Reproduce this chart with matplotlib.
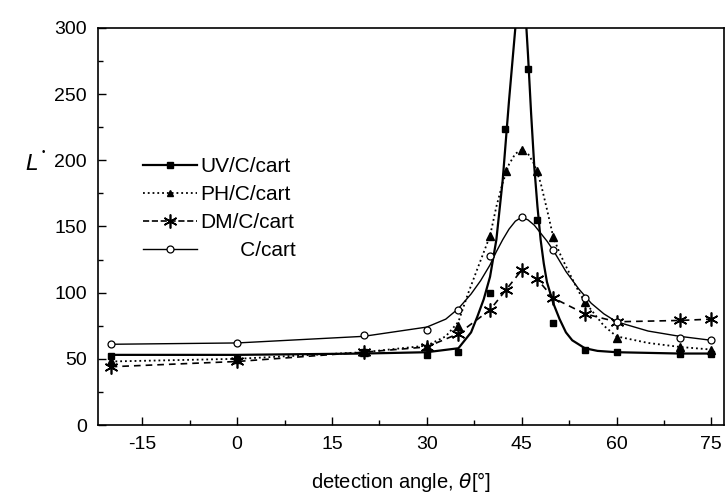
import matplotlib
matplotlib.use("Agg")
import matplotlib.pyplot as plt
from matplotlib.lines import Line2D
from matplotlib.ticker import MultipleLocator

plt.rcParams['font.family'] = ['Liberation Sans', 'DejaVu Sans']
plt.rcParams['axes.unicode_minus'] = False

# measured points
uv_x = [-20, 0, 20, 30, 35, 40, 42.3, 46, 47.5, 50, 55, 60, 70, 75]
uv_y = [52, 50, 55, 53, 55, 100, 224, 269, 155, 77, 57, 55, 54, 54]

ph_x = [-20, 0, 20, 30, 35, 40, 42.5, 45, 47.5, 50, 55, 60, 70, 75]
ph_y = [48, 50, 55, 60, 75, 143, 192, 208, 192, 142, 93, 66, 59, 57]

dm_x = [-20, 0, 20, 30, 35, 40, 42.5, 45, 47.5, 50, 55, 60, 70, 75]
dm_y = [44, 48, 55, 59, 69, 87, 102, 117, 110, 96, 84, 78, 79, 80]

c_x = [-20, 0, 20, 30, 35, 40, 45, 50, 55, 60, 70, 75]
c_y = [61, 62, 68, 72, 87, 128, 157, 132, 96, 78, 66, 64]

# fitted curves
uvfit_x = [-20, 0, 20, 30, 35, 37, 38, 39, 40, 41, 42, 43, 44, 44.5, 45, 45.5, 46, 46.5, 47, 47.5, 48, 48.5, 49, 50, 51, 52, 53, 55, 57, 60, 70, 75]
uvfit_y = [53, 53, 54, 55, 58, 70, 82, 95, 112, 140, 185, 245, 300, 330, 340, 320, 280, 235, 195, 165, 140, 122, 108, 92, 80, 70, 64, 58, 56, 55, 54, 54]

cfit_x = [-20, 0, 20, 30, 33, 35, 37, 38.5, 40, 41, 42, 43, 44, 45, 46, 47, 48, 49, 50, 51, 52, 54, 56, 58, 60, 65, 70, 75]
cfit_y = [61, 62, 67, 74, 80, 88, 99, 109, 121, 131, 140, 148, 154, 157, 155, 151, 145, 139, 132, 124, 116, 103, 92, 84, 78, 71, 67, 64]

phfit_x = [-20, 0, 20, 30, 33, 35, 36.5, 38, 40, 41, 42, 43, 44, 45, 46, 47, 48, 49, 50, 51, 52, 54, 55, 56, 58, 60, 65, 70, 75]
phfit_y = [48, 50, 55, 60, 67, 78, 99, 118, 143, 165, 183, 197, 205, 208, 205, 197, 183, 163, 142, 130, 120, 101, 93, 87, 75, 67, 62, 59, 57]

xticks = [-15, 0, 15, 30, 45, 60, 75]
yticks = [0, 50, 100, 150, 200, 250, 300]

fig = plt.figure(figsize=(7.25, 4.98), dpi=100)
ax = fig.add_axes([98/725, 1-425/498, (724-98)/725, (425-28)/498])

k = 'black'
ast = (6, 2, 0)
ax.plot(uvfit_x, uvfit_y, '-', color=k, lw=1.6)
ax.plot(uv_x, uv_y, 's', color=k, ms=5)

ax.plot(phfit_x, phfit_y, ':', color=k, lw=1.3)
ax.plot(ph_x, ph_y, '^', color=k, ms=5.5)

ax.plot(dm_x, dm_y, '--', color=k, lw=1.2, dashes=(4, 3))
ax.plot(dm_x, dm_y, ls='none', marker=ast, color=k, ms=10, mew=1.2)

ax.plot(cfit_x, cfit_y, '-', color=k, lw=1.0)
ax.plot(c_x, c_y, 'o', color=k, mfc='white', ms=5, mew=0.9)

ax.set_xlim(-22, 77)
ax.set_ylim(0, 300)
ax.set_xticks(xticks)
ax.set_yticks(yticks)
ax.xaxis.set_minor_locator(MultipleLocator(7.5))
ax.yaxis.set_minor_locator(MultipleLocator(25))
ax.tick_params(which='both', direction='in', top=False, right=False, labelsize=14, width=1.0)
ax.tick_params(which='major', length=6, pad=8)
ax.tick_params(which='minor', length=3.5)
for s in ax.spines.values():
    s.set_linewidth(1.2)

fig.text(401/725, 1-482/498, r'detection angle, $\theta$[°]', ha='center', va='center', fontsize=14.5)
fig.text(32/725, 1-165/498, r'$L$', ha='center', va='center', fontsize=16)
fig.text(43/725, 1-152/498, '•', ha='center', va='center', fontsize=7)

handles = [
    Line2D([], [], color=k, ls='-', lw=1.6, marker='s', ms=4),
    Line2D([], [], color=k, ls=':', lw=1.3, marker='^', ms=5),
    Line2D([], [], color=k, ls='--', lw=1.2, marker=ast, ms=10, mew=1.2),
    Line2D([], [], color=k, ls='-', lw=1.0, marker='o', mfc='white', ms=5, mew=0.9),
]
labels = ['UV/C/cart', 'PH/C/cart', 'DM/C/cart', '       C/cart']
ax.legend(handles, labels, loc='upper left', bbox_to_anchor=(45/626, 1-(157-28)/397), frameon=False,
          fontsize=15, handlelength=2.6, handletextpad=0.15, labelspacing=0.43, borderaxespad=0,
          borderpad=0)

fig.savefig('out.png', dpi=100)
